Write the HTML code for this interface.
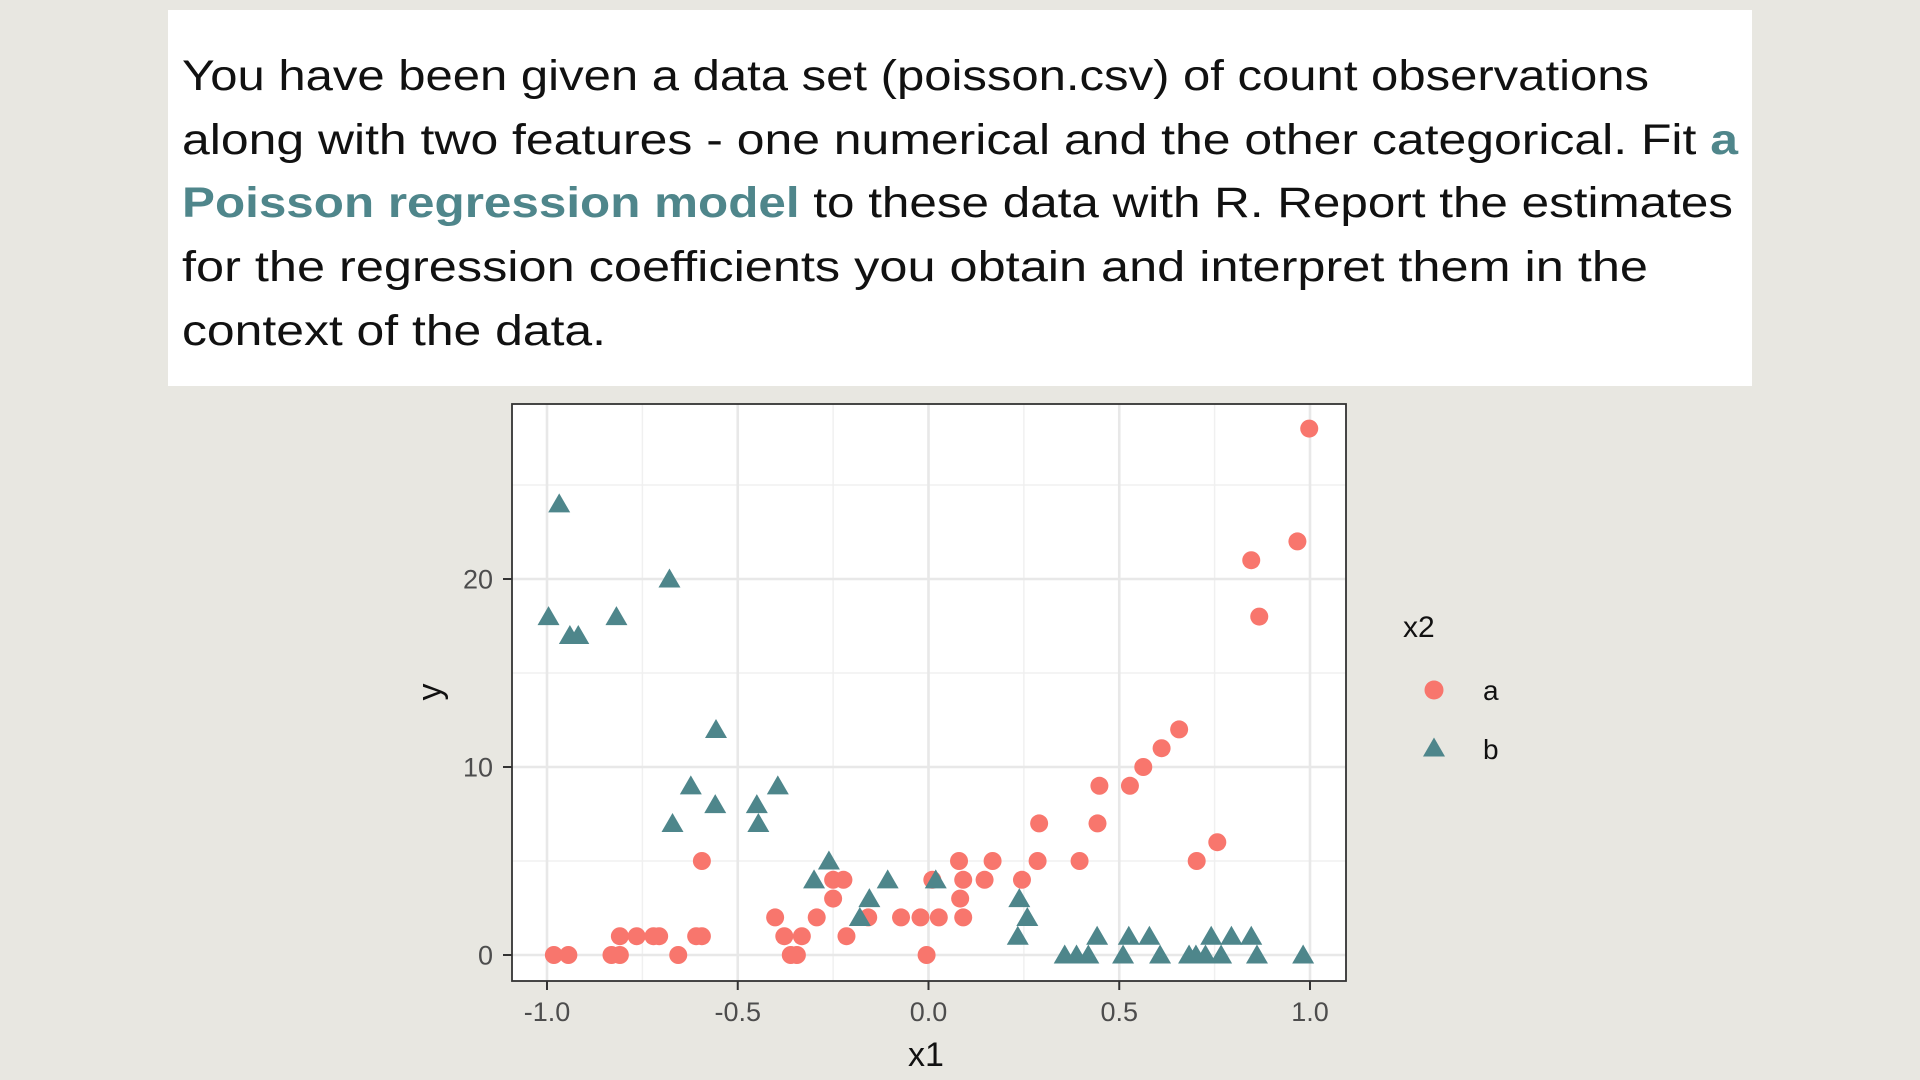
<!DOCTYPE html>
<html>
<head>
<meta charset="utf-8">
<style>
  html, body { margin: 0; padding: 0; background: #e8e7e1; }
  body { width: 1920px; height: 1080px; overflow: hidden; font-family: "Liberation Sans", sans-serif; }
  svg { display: block; }
</style>
</head>
<body>
<svg id="root" width="1920" height="1080" viewBox="0 0 1920 1080" xmlns="http://www.w3.org/2000/svg">
  <rect x="0" y="0" width="1920" height="1080" fill="#e8e7e1"/>
  <g>
    <rect x="168" y="10" width="1584" height="376" fill="#ffffff"/>
    <g font-family="'Liberation Sans', sans-serif" font-size="43" fill="#111111">
      <text x="182" y="90" textLength="1467" lengthAdjust="spacingAndGlyphs">You have been given a data set (poisson.csv) of count observations</text>
      <text x="182" y="154" textLength="1556" lengthAdjust="spacingAndGlyphs">along with two features - one numerical and the other categorical. Fit <tspan font-weight="bold" fill="#4f868b">a</tspan></text>
      <text x="182" y="217" textLength="1551" lengthAdjust="spacingAndGlyphs"><tspan font-weight="bold" fill="#4f868b">Poisson regression model</tspan> to these data with R. Report the estimates</text>
      <text x="182" y="281" textLength="1466" lengthAdjust="spacingAndGlyphs">for the regression coefficients you obtain and interpret them in the</text>
      <text x="182" y="345" textLength="424" lengthAdjust="spacingAndGlyphs">context of the data.</text>
    </g>
  </g>
  <g id="chart"></g>
</svg>
<script>
const xTicks = [-1.0, -0.5, 0.0, 0.5, 1.0];
const xTickLabels = ["-1.0", "-0.5", "0.0", "0.5", "1.0"];
const xMinor = [-0.75, -0.25, 0.25, 0.75];
const yTicks = [0, 10, 20];
const yTickLabels = ["0", "10", "20"];
const yMinor = [5, 15, 25];

const aX = [-0.982,-0.944,-0.831,-0.809,-0.809,-0.765,-0.721,-0.706,-0.656,-0.609,-0.594,-0.594,-0.402,-0.378,-0.361,-0.345,-0.332,-0.293,-0.250,-0.250,-0.223,-0.215,-0.158,-0.072,-0.021,0.027,-0.005,0.010,0.080,0.083,0.091,0.091,0.147,0.168,0.245,0.286,0.290,0.396,0.443,0.448,0.528,0.563,0.611,0.657,0.703,0.757,0.846,0.867,0.967,0.998];
const aY = [0,0,0,0,1,1,1,1,0,1,1,5,2,1,0,0,1,2,3,4,4,1,2,2,2,2,0,4,5,3,4,2,4,5,4,5,7,5,7,9,9,10,11,12,5,6,21,18,22,28];
const bX = [-0.968,-0.996,-0.940,-0.918,-0.818,-0.679,-0.557,-0.623,-0.559,-0.671,-0.450,-0.446,-0.395,-0.261,-0.300,-0.155,-0.180,-0.107,0.019,0.238,0.259,0.234,0.357,0.388,0.419,0.442,0.510,0.525,0.579,0.607,0.683,0.701,0.726,0.741,0.767,0.794,0.846,0.861,0.982];
const bY = [24,18,17,17,18,20,12,9,8,7,8,7,9,5,4,3,2,4,4,3,2,1,0,0,0,1,0,1,1,0,0,0,0,1,0,1,1,0,0];

const NS = "http://www.w3.org/2000/svg";
const P = { left: 512, right: 1346, top: 404, bottom: 981 };
const X0 = 928.5, XU = 381.5, Y0 = 955, YU = 18.8;
function sx(v) { return X0 + v * XU; }
function sy(v) { return Y0 - v * YU; }
function mk(tag, attrs, parent) {
  const e = document.createElementNS(NS, tag);
  for (const k in attrs) e.setAttribute(k, attrs[k]);
  parent.appendChild(e);
  return e;
}
const chart = document.getElementById('chart');

const panel = mk('rect', { x: P.left, y: P.top, width: P.right - P.left, height: P.bottom - P.top, fill: '#ffffff' }, chart);



const grid = mk('g', {}, chart);


xMinor.forEach(v => { mk('line', { x1: sx(v), x2: sx(v), y1: P.top, y2: P.bottom, stroke: '#f0f0f0', 'stroke-width': 1.5 }, grid); });
yMinor.forEach(v => { mk('line', { x1: P.left, x2: P.right, y1: sy(v), y2: sy(v), stroke: '#f0f0f0', 'stroke-width': 1.5 }, grid); });
xTicks.forEach(v => { mk('line', { x1: sx(v), x2: sx(v), y1: P.top, y2: P.bottom, stroke: '#e8e8e8', 'stroke-width': 2.6 }, grid); });
yTicks.forEach(v => { mk('line', { x1: P.left, x2: P.right, y1: sy(v), y2: sy(v), stroke: '#e8e8e8', 'stroke-width': 2.6 }, grid); });

const pts = mk('g', {}, chart);


aX.forEach((x, i) => {
  const c = mk('circle', { cx: sx(x), cy: sy(aY[i]), r: 9, fill: '#f8766d' }, pts);
  
  
});
function tri(cx, cy, parent) {
  const w = 22, h = 19;
  return mk('polygon', { points: `${cx - w/2},${cy + h*0.45} ${cx + w/2},${cy + h*0.45} ${cx},${cy - h*0.55}`, fill: '#4e868b' }, parent);
}
bX.forEach((x, i) => {
  const t = tri(sx(x), sy(bY[i]), pts);
  
  
});

const border = mk('rect', { x: P.left, y: P.top, width: P.right - P.left, height: P.bottom - P.top, fill: 'none', stroke: '#333333', 'stroke-width': 1.8 }, chart);



const xAxis = mk('g', { 'font-family': "'Liberation Sans', sans-serif", 'font-size': 27, fill: '#4d4d4d' }, chart);


xTicks.forEach((v, i) => {
  mk('line', { x1: sx(v), x2: sx(v), y1: P.bottom, y2: P.bottom + 9, stroke: '#333333', 'stroke-width': 2 }, xAxis);
  const t = mk('text', { x: sx(v), y: 1021, 'text-anchor': 'middle' }, xAxis);
  t.textContent = xTickLabels[i];
  
  
});
const yAxis = mk('g', { 'font-family': "'Liberation Sans', sans-serif", 'font-size': 27, fill: '#4d4d4d' }, chart);


yTicks.forEach((v, i) => {
  mk('line', { x1: P.left - 9, x2: P.left, y1: sy(v), y2: sy(v), stroke: '#333333', 'stroke-width': 2 }, yAxis);
  const t = mk('text', { x: 493, y: sy(v) + 9.5, 'text-anchor': 'end' }, yAxis);
  t.textContent = yTickLabels[i];
  
  
});

const xt = mk('text', { x: 926, y: 1066, 'text-anchor': 'middle', 'font-family': "'Liberation Sans', sans-serif", 'font-size': 34, fill: '#111' }, chart);
xt.textContent = 'x1';


const yt = mk('text', { x: 0, y: 0, 'text-anchor': 'middle', 'font-family': "'Liberation Sans', sans-serif", 'font-size': 34, fill: '#111', transform: 'translate(441,692) rotate(-90)' }, chart);
yt.textContent = 'y';



const leg = mk('g', { 'font-family': "'Liberation Sans', sans-serif", fill: '#111' }, chart);


const lt = mk('text', { x: 1403, y: 637, 'font-size': 30 }, leg);
lt.textContent = 'x2';


const la = mk('circle', { cx: 1434, cy: 690, r: 9.5, fill: '#f8766d' }, leg);


const lat = mk('text', { x: 1483, y: 700, 'font-size': 28 }, leg);
lat.textContent = 'a';


const lb = tri(1434, 748, leg);


const lbt = mk('text', { x: 1483, y: 759, 'font-size': 28 }, leg);
lbt.textContent = 'b';


</script>
</body>
</html>
